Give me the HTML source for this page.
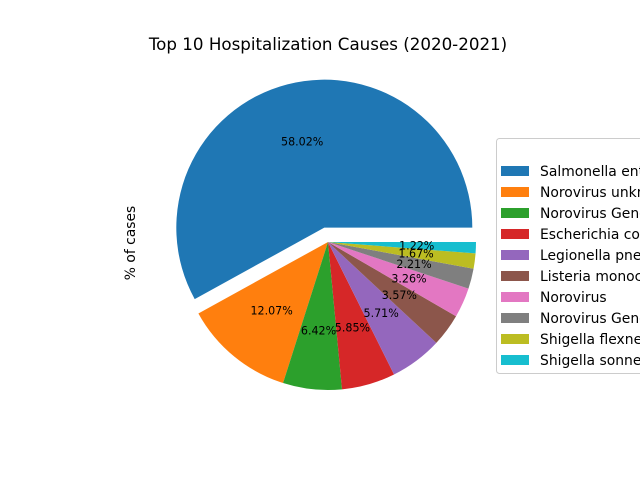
<!DOCTYPE html>
<html><head><meta charset="utf-8"><style>
body{margin:0;background:#fff;}
svg{display:block;font-family:"DejaVu Sans","Liberation Sans",sans-serif;}
</style></head><body>
<svg id="chart" width="640" height="480" viewBox="0 0 640 480">
<rect width="640" height="480" fill="#fff"/>
<text x="328" y="50" font-size="16.7" text-anchor="middle">Top 10 Hospitalization Causes (2020-2021)</text>
<text transform="translate(135,243) rotate(-90)" font-size="13.9" text-anchor="middle">% of cases</text>
<g id="slices"></g>
<g id="labels"></g>
<g id="legend"></g>
</svg>
<script>
const categories=["Salmonella enterica","Norovirus unknown","Norovirus Genogroup II","Escherichia coli","Legionella pneumophila","Listeria monocytogenes","Norovirus","Norovirus Genogroup I","Shigella flexneri","Shigella sonnei"];
const values=[58.02,12.07,6.42,5.85,5.71,3.57,3.26,2.21,1.67,1.22];
const explode=[0.1,0,0,0,0,0,0,0,0,0];
const colors=["#1f77b4","#ff7f0e","#2ca02c","#d62728","#9467bd","#8c564b","#e377c2","#7f7f7f","#bcbd22","#17becf"];
const NS="http://www.w3.org/2000/svg";
const cx=328,cy=242,r=148;
const total=values.reduce((a,b)=>a+b,0);
const gS=document.getElementById('slices'),gL=document.getElementById('labels'),gG=document.getElementById('legend');
let a0=0;
values.forEach((v,i)=>{
  const a1=a0+v/total*2*Math.PI, am=(a0+a1)/2;
  const ox=cx+explode[i]*r*Math.cos(am), oy=cy-explode[i]*r*Math.sin(am);
  const x0=ox+r*Math.cos(a0),y0=oy-r*Math.sin(a0),x1=ox+r*Math.cos(a1),y1=oy-r*Math.sin(a1);
  const large=(a1-a0)>Math.PI?1:0;
  const p=document.createElementNS(NS,'path');
  p.setAttribute('d',`M${ox},${oy}L${x0},${y0}A${r},${r} 0 ${large} 0 ${x1},${y1}Z`);
  p.setAttribute('fill',colors[i]);
  
  
  gS.appendChild(p);
  const t=document.createElementNS(NS,'text');
  t.setAttribute('x',ox+0.6*r*Math.cos(am));t.setAttribute('y',oy-0.6*r*Math.sin(am)+4);
  t.setAttribute('font-size','11.1');t.setAttribute('text-anchor','middle');
  t.textContent=v.toFixed(2)+'%';
  
  
  gL.appendChild(t);
  a0=a1;
});
const box=document.createElementNS(NS,'rect');
box.setAttribute('x',496.5);box.setAttribute('y',138.5);box.setAttribute('width',160);box.setAttribute('height',235);
box.setAttribute('rx',3);box.setAttribute('fill','#fff');box.setAttribute('stroke','#ccc');


gG.appendChild(box);
categories.forEach((c,i)=>{
  const y=166+i*21;
  const g=document.createElementNS(NS,'g');
  
  
  const s=document.createElementNS(NS,'rect');
  s.setAttribute('x',501);s.setAttribute('y',y);s.setAttribute('width',28);s.setAttribute('height',10);s.setAttribute('fill',colors[i]);
  
  
  const t=document.createElementNS(NS,'text');
  t.setAttribute('x',540);t.setAttribute('y',y+10);t.setAttribute('font-size','13.9');
  t.textContent=c;
  
  
  g.appendChild(s);g.appendChild(t);gG.appendChild(g);
});
</script>
</body></html>
